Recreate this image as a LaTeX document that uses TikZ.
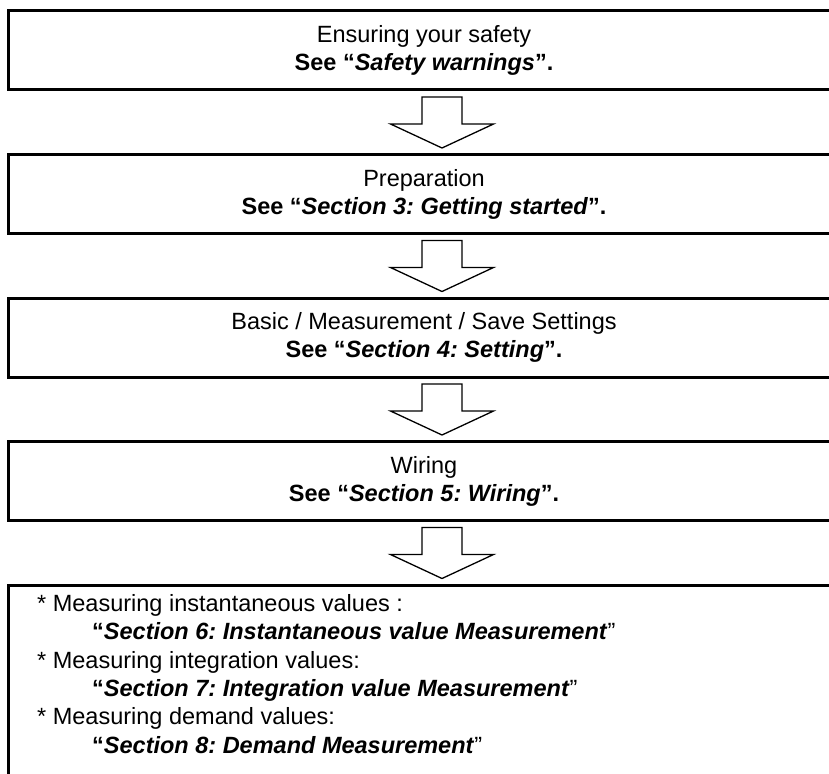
\documentclass[tikz,border=0pt]{standalone}
\usepackage{fontspec}
\setmainfont{Liberation Sans}
\usetikzlibrary{positioning,calc}
\frenchspacing

\tikzset{
  stepbox/.style={draw, line width=3pt, outer sep=0pt, inner sep=0pt,
    minimum width=832pt, minimum height=79pt, align=center,
    font=\fontsize{23.5}{28}\selectfont},
  hollow/.style={draw, line width=1.3pt, line join=miter}
}

\begin{document}
\begin{tikzpicture}[x=1pt, y=1pt, node distance=64.5pt]
  \clip (0,0) rectangle (829,-773);
  \node (safety) [stepbox] at (424,-50.5) {Ensuring your safety\\ \textbf{See “\textit{Safety warnings}”.}};
  \node (prep) [stepbox, below=of safety] {Preparation\\ \textbf{See “\textit{Section 3: Getting started}”.}};
  \node (setting) [stepbox, below=of prep] {Basic / Measurement / Save Settings\\ \textbf{See “\textit{Section 4: Setting}”.}};
  \node (wiring) [stepbox, below=of setting] {Wiring\\ \textbf{See “\textit{Section 5: Wiring}”.}};
  \node (measure) [stepbox, minimum height=200pt, below=of wiring] {};
  \node (readings) [anchor=north west, align=left, inner sep=0pt,
    font=\fontsize{23.5}{28.4}\selectfont] at ($(measure.north west)+(29,-9)$)
    {* Measuring instantaneous values :\\
     \hspace*{55pt}\textbf{“\textit{Section 6: Instantaneous value Measurement}}”\\
     * Measuring integration values:\\
     \hspace*{55pt}\textbf{“\textit{Section 7: Integration value Measurement}}”\\
     * Measuring demand values:\\
     \hspace*{55pt}\textbf{“\textit{Section 8: Demand Measurement}}”};
  \draw[hollow] ($(safety.south)+(-2,-7)$) -- ++(40,0) -- ++(0,-27) -- ++(31.5,0) -- ++(-51.5,-24) -- ++(-51.5,24) -- ++(31.5,0) -- cycle;
  \draw[hollow] ($(prep.south)+(-2,-7)$) -- ++(40,0) -- ++(0,-27) -- ++(31.5,0) -- ++(-51.5,-24) -- ++(-51.5,24) -- ++(31.5,0) -- cycle;
  \draw[hollow] ($(setting.south)+(-2,-7)$) -- ++(40,0) -- ++(0,-27) -- ++(31.5,0) -- ++(-51.5,-24) -- ++(-51.5,24) -- ++(31.5,0) -- cycle;
  \draw[hollow] ($(wiring.south)+(-2,-7)$) -- ++(40,0) -- ++(0,-27) -- ++(31.5,0) -- ++(-51.5,-24) -- ++(-51.5,24) -- ++(31.5,0) -- cycle;
\end{tikzpicture}
\end{document}
